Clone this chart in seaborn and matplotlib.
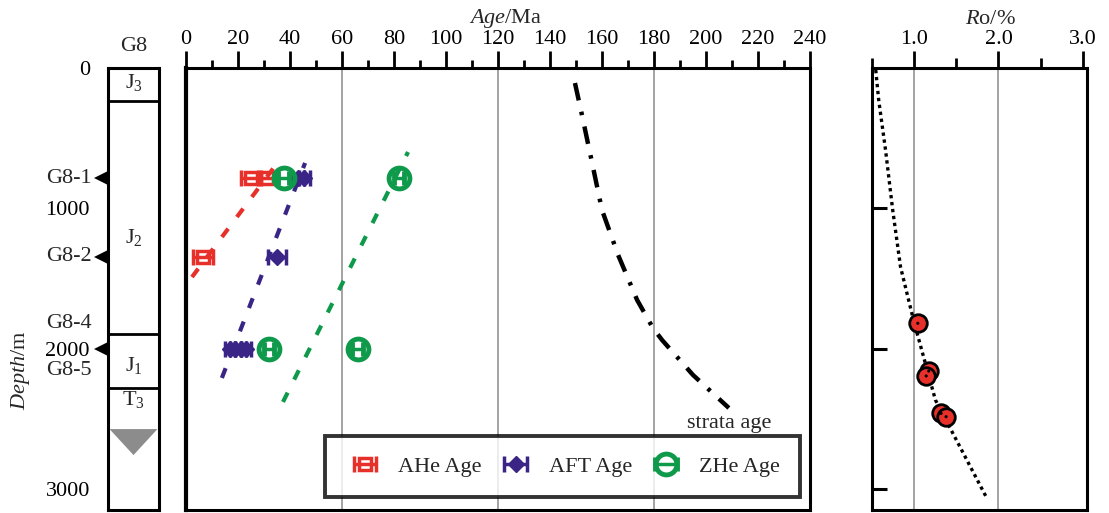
import numpy as np
import pandas as pd
import matplotlib
matplotlib.use("Agg")
import matplotlib.pyplot as plt
import seaborn as sns
from matplotlib.patches import Polygon
from matplotlib.ticker import MultipleLocator, FixedLocator

# ---------------- data ----------------
depth_ticks = [0, 1000, 2000, 3000]
age_ticks = list(range(0, 241, 20))
ro_ticks = [1.0, 2.0, 3.0]

strata_names = ["J$_3$", "J$_2$", "J$_1$", "T$_3$"]
strata_bounds = [235, 1890, 2280]
strata_label_depth = [100, 1210, 2114, 2363]
unconf_top, unconf_tip = 2570, 2755

sample_labels = ["G8-1", "G8-2", "G8-4", "G8-5"]
sample_marker_depth = [783, 1345, 2000]
sample_label_depth = [783, 1345, 1815, 2150]

ahe_age = [25.0, 31.0, 6.5]
ahe_err = [4.0, 3.5, 3.8]
ahe_depth = [783, 783, 1345]

aft_age = [43.0, 45.5, 35.0, 17.0, 19.0, 21.0, 23.0]
aft_err = [2.5, 2.0, 3.5, 2.0, 2.0, 2.0, 2.0]
aft_depth = [783, 783, 1345, 2000, 2000, 2000, 2000]

zhe_age = [37.5, 82.0, 32.0, 66.0]
zhe_err = [2.0, 2.0, 2.0, 2.0]
zhe_depth = [783, 783, 2000, 2000]

ahe_trend_age = [2.3, 35.4]
ahe_trend_depth = [1488, 669]
aft_trend_age = [13.8, 45.8]
aft_trend_depth = [2206, 676]
zhe_trend_age = [37.3, 85.4]
zhe_trend_depth = [2377, 598]

strata_age = [149.6, 152.3, 156.2, 160.0, 166.2, 173.5, 179.6, 183.1, 195.0, 208.8]
strata_age_depth = [107, 335, 676, 1011, 1331, 1651, 1851, 1936, 2185, 2420]

ro_value = [1.047, 1.176, 1.146, 1.322, 1.381]
ro_depth = [1817, 2157, 2192, 2458, 2482]
ro_trend_value = [0.55, 0.585, 0.666, 0.749, 0.843, 0.996, 1.255, 1.855]
ro_trend_depth = [14, 228, 584, 1004, 1416, 1794, 2363, 3053]

# ---------------- style ----------------
sns.set_theme(style="white")
plt.rcParams["font.family"] = ["Liberation Serif", "DejaVu Serif"]
plt.rcParams["mathtext.fontset"] = "custom"
plt.rcParams["mathtext.rm"] = "Liberation Serif"
plt.rcParams["mathtext.it"] = "Liberation Serif:italic"
plt.rcParams["axes.linewidth"] = 2.2

RED = "#e8302a"
PURPLE = "#3a2586"
GREEN = "#0e9a4a"
FS = 16
YMAX = 3146

W, H = 1109, 513
fig = plt.figure(figsize=(W / 100, H / 100), dpi=100)


def px_axes(x0, x1, ytop, ybot):
    return fig.add_axes([x0 / W, (H - ybot) / H, (x1 - x0) / W, (ybot - ytop) / H])


# ---------------- stratigraphic column ----------------
axc = px_axes(108, 159, 68, 510)
axc.set_xlim(0, 1)
axc.set_ylim(YMAX, 0)
for s in axc.spines.values():
    s.set_color("black")
    s.set_linewidth(2.2)
axc.set_xticks([])
axc.set_yticks(depth_ticks)
axc.set_yticklabels([str(d) for d in depth_ticks], fontsize=FS)
axc.tick_params(axis="y", direction="out", length=12, width=2, pad=1, colors="black")
for b in strata_bounds:
    axc.axhline(b, color="black", lw=2)
for name, d in zip(strata_names, strata_label_depth):
    axc.text(0.5, d, name, ha="center", va="center", fontsize=FS)
axc.add_patch(Polygon([[0.03, unconf_top], [0.97, unconf_top], [0.5, unconf_tip]],
                      closed=True, facecolor="#8c8c8c", edgecolor="none"))
axc.set_title("G8", fontsize=FS, pad=12)
# sample markers
for d in sample_marker_depth:
    axc.plot([-0.12], [d], marker="<", ms=12, color="black", clip_on=False,
             markeredgewidth=0)
for lab, d in zip(sample_labels, sample_label_depth):
    axc.text(-0.32, d, lab, ha="right", va="center", fontsize=FS, clip_on=False)
fig.text(20 / W, 1 - 370 / H, r"$\mathit{Depth}$/m", rotation=90, ha="center",
         va="center", fontsize=FS)

# ---------------- age panel ----------------
axa = px_axes(186, 810, 68, 510)
axa.set_xlim(0, 240)
axa.set_ylim(YMAX, 0)
for s in axa.spines.values():
    s.set_color("black")
    s.set_linewidth(2.2)
axa.spines["left"].set_linewidth(3)
axa.xaxis.tick_top()
axa.set_xticks(age_ticks)
axa.set_xticklabels([str(a) for a in age_ticks], fontsize=FS)
axa.xaxis.set_minor_locator(MultipleLocator(10))
axa.tick_params(axis="x", which="major", direction="out", length=12, width=2,
                pad=2, colors="black", top=True, bottom=False)
axa.tick_params(axis="x", which="minor", direction="out", length=6, width=2,
                top=True, bottom=False, colors="black")
axa.set_yticks([])
for g in [60, 120, 180]:
    axa.axvline(g, color="#8a8a8a", lw=1.1, zorder=0)

# trend lines
sns.lineplot(x=ahe_trend_age, y=ahe_trend_depth, ax=axa, color=RED, lw=3,
             linestyle=(0, (2.5, 3.5)), sort=False, estimator=None)
sns.lineplot(x=aft_trend_age, y=aft_trend_depth, ax=axa, color=PURPLE, lw=3,
             linestyle=(0, (2.5, 3.5)), sort=False, estimator=None)
sns.lineplot(x=zhe_trend_age, y=zhe_trend_depth, ax=axa, color=GREEN, lw=3,
             linestyle=(0, (2.5, 3.5)), sort=False, estimator=None)
sns.lineplot(x=strata_age, y=strata_age_depth, ax=axa, color="black", lw=3.2,
             linestyle=(0, (4, 2.6, 0.8, 2.6)), sort=False, estimator=None)
axa.text(209, 2530, "strata age", ha="center", va="center", fontsize=FS)

# data points with error bars
h1 = axa.errorbar(ahe_age, ahe_depth, xerr=ahe_err, fmt="s", color=RED, mfc="none",
                  mec=RED, mew=2.5, ms=9, elinewidth=2.5, capsize=6, capthick=2.5,
                  label="AHe Age", zorder=3)
h2 = axa.errorbar(aft_age, aft_depth, xerr=aft_err, fmt="D", color=PURPLE, mfc=PURPLE,
                  mec=PURPLE, ms=8, elinewidth=2.5, capsize=6, capthick=2.5,
                  label="AFT Age", zorder=4)
h3 = axa.errorbar(zhe_age, zhe_depth, xerr=zhe_err, fmt="o", color=GREEN, mfc="none",
                  mec=GREEN, mew=3.5, ms=15, elinewidth=2.5, capsize=5, capthick=2.5,
                  label="ZHe Age", zorder=5)
leg = axa.legend(handles=[h1, h2, h3], labels=["AHe Age", "AFT Age", "ZHe Age"],
                 ncol=3, loc="lower left", bbox_to_anchor=(0.223, 0.03, 0.761, 0.135),
                 mode="expand", fontsize=FS, frameon=True, fancybox=False,
                 handlelength=1.8, handletextpad=0.6, borderaxespad=0,
                 borderpad=0.9, columnspacing=1.0)
leg.get_frame().set_edgecolor("black")
leg.get_frame().set_linewidth(2.8)
fig.text(506 / W, 1 - 18 / H, r"$\mathit{Age}$/Ma", ha="center", va="center", fontsize=FS)

# ---------------- Ro panel ----------------
axr = px_axes(871.5, 1086.5, 68, 510)
axr.set_xlim(0.5, 3.04)
axr.set_ylim(YMAX, 0)
for s in axr.spines.values():
    s.set_color("black")
    s.set_linewidth(2.2)
axr.xaxis.tick_top()
axr.set_xticks(ro_ticks)
axr.set_xticklabels(["1.0", "2.0", "3.0"], fontsize=FS)
axr.xaxis.set_minor_locator(FixedLocator([0.5, 1.5, 2.5]))
axr.tick_params(axis="x", which="major", direction="out", length=12, width=2,
                pad=2, colors="black", top=True, bottom=False)
axr.tick_params(axis="x", which="minor", direction="out", length=7, width=2,
                top=True, bottom=False, colors="black")
axr.set_yticks(depth_ticks[1:])
axr.set_yticklabels([])
axr.tick_params(axis="y", direction="in", length=11, width=2.2, left=True,
                colors="black")
for g in [1.0, 2.0]:
    axr.axvline(g, color="#8a8a8a", lw=1.1, zorder=0)
sns.lineplot(x=ro_trend_value, y=ro_trend_depth, ax=axr, color="black", lw=2.4,
             linestyle=(0, (1, 1.1)), sort=False, estimator=None)
sns.scatterplot(x=ro_value, y=ro_depth, ax=axr, color=RED, edgecolor="black",
                linewidth=2, s=160, zorder=5)
sns.scatterplot(x=ro_value, y=ro_depth, ax=axr, color="black", edgecolor="none",
                s=5, zorder=6)
fig.text(990 / W, 1 - 20 / H, r"$\mathit{R}$o/%", ha="center", va="center", fontsize=FS)

fig.savefig("out.png", dpi=100)
